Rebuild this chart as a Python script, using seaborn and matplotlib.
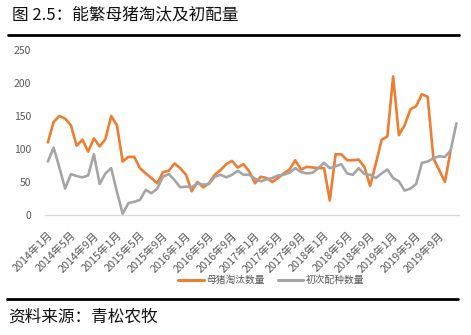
import numpy as np
import pandas as pd
import matplotlib
matplotlib.use("Agg")
import matplotlib.pyplot as plt
from matplotlib.ticker import FixedLocator
from matplotlib.lines import Line2D
import seaborn as sns

# Monthly categories, Jan 2014 - Dec 2019
months = [f"{y}年{m}月" for y in range(2014, 2020) for m in range(1, 13)]

# 母猪淘汰数量 (no value for the final month)
culled = [110, 141, 150, 146, 136, 105, 114, 96, 116, 104, 115, 150,
          136, 81, 88, 88, 71, 63, 56, 48, 65, 67, 78, 71,
          61, 36, 50, 42, 48, 61, 68, 77, 82, 72, 77, 66,
          48, 58, 56, 50, 56, 63, 69, 83, 69, 73, 72, 71,
          71, 22, 92, 92, 83, 83, 84, 73, 44, 78, 114, 119,
          210, 121, 136, 160, 165, 183, 179, 86, 68, 50, 98, np.nan]

# 初次配种数量
first_mating = [81, 102, 72, 40, 62, 59, 57, 60, 92, 47, 63, 71,
                35, 2, 18, 20, 23, 38, 33, 40, 58, 62, 53, 42,
                43, 42, 48, 46, 47, 58, 61, 57, 61, 67, 61, 61,
                55, 51, 54, 56, 60, 61, 64, 71, 65, 63, 64, 71,
                79, 71, 74, 77, 63, 61, 71, 62, 61, 56, 63, 69,
                56, 51, 37, 40, 47, 79, 81, 86, 89, 88, 98, 139]

series_names = ["母猪淘汰数量", "初次配种数量"]
series_colors = ["#ED7D31", "#A5A5A5"]

title_text = "图 2.5：能繁母猪淘汰及初配量"
source_text = "资料来源：青松农牧"

sns.set_theme(style="white")
plt.rcParams["font.family"] = ["Noto Sans CJK SC", "DejaVu Sans"]

df = pd.DataFrame({
    "idx": np.arange(len(months)),
    series_names[0]: culled,
    series_names[1]: first_mating,
})
long = df.melt(id_vars="idx", var_name="series", value_name="value").dropna()

fig = plt.figure(figsize=(4.71, 3.35), dpi=100)
ax = fig.add_axes([45 / 471, 1 - 215 / 335, (459.3 - 45) / 471, (215 - 50) / 335])

sns.lineplot(data=long, x="idx", y="value", hue="series",
             hue_order=series_names, palette=series_colors,
             linewidth=1.9, ax=ax, legend=False)

n = len(months)
ax.set_xlim(-0.5, n - 0.5)
ax.set_ylim(0, 250)
ax.set_yticks([0, 50, 100, 150, 200, 250])
ax.tick_params(axis="y", labelsize=7.5, labelcolor="#595959", length=0, pad=10)

# Category labels every 4 months; tick marks on category boundaries
label_pos = list(range(0, n, 4))
ax.set_xticks(label_pos)
ax.set_xticklabels([months[i] for i in label_pos], rotation=45,
                   ha="right", va="top", rotation_mode="anchor")
ax.tick_params(axis="x", which="major", length=0, labelsize=7.8,
               labelcolor="#595959", pad=11)
ax.xaxis.set_minor_locator(FixedLocator(np.arange(-0.5, n, 4)))
ax.tick_params(axis="x", which="minor", length=4, width=0.8,
               color="#D9D9D9", direction="out")

for side in ["left", "top", "right"]:
    ax.spines[side].set_visible(False)
ax.spines["bottom"].set_color("#D9D9D9")
ax.spines["bottom"].set_linewidth(0.9)
ax.set_xlabel("")
ax.set_ylabel("")
ax.grid(False)

# Legend below the axis
handles = [Line2D([0], [0], color=c, lw=2.2) for c in series_colors]
fig.legend(handles, series_names, loc="center", ncol=2,
           bbox_to_anchor=(271.5 / 471, 1 - 280 / 335), frameon=False,
           fontsize=7, labelcolor="#595959", handlelength=2.6,
           handletextpad=0.3, columnspacing=1.3)

# Header and footer
fig.text(12 / 471, 1 - 15 / 335, title_text, fontsize=12,
         ha="left", va="center", color="#111111")
fig.add_artist(Line2D([8 / 471, 459 / 471], [1 - 35 / 335, 1 - 35 / 335],
                      color="black", lw=2, transform=fig.transFigure))
fig.add_artist(Line2D([7 / 471, 458 / 471], [1 - 299 / 335, 1 - 299 / 335],
                      color="black", lw=2, transform=fig.transFigure))
fig.text(8 / 471, 1 - 317 / 335, source_text, fontsize=12,
         ha="left", va="center", color="#111111")

fig.savefig("out.png", dpi=100)
